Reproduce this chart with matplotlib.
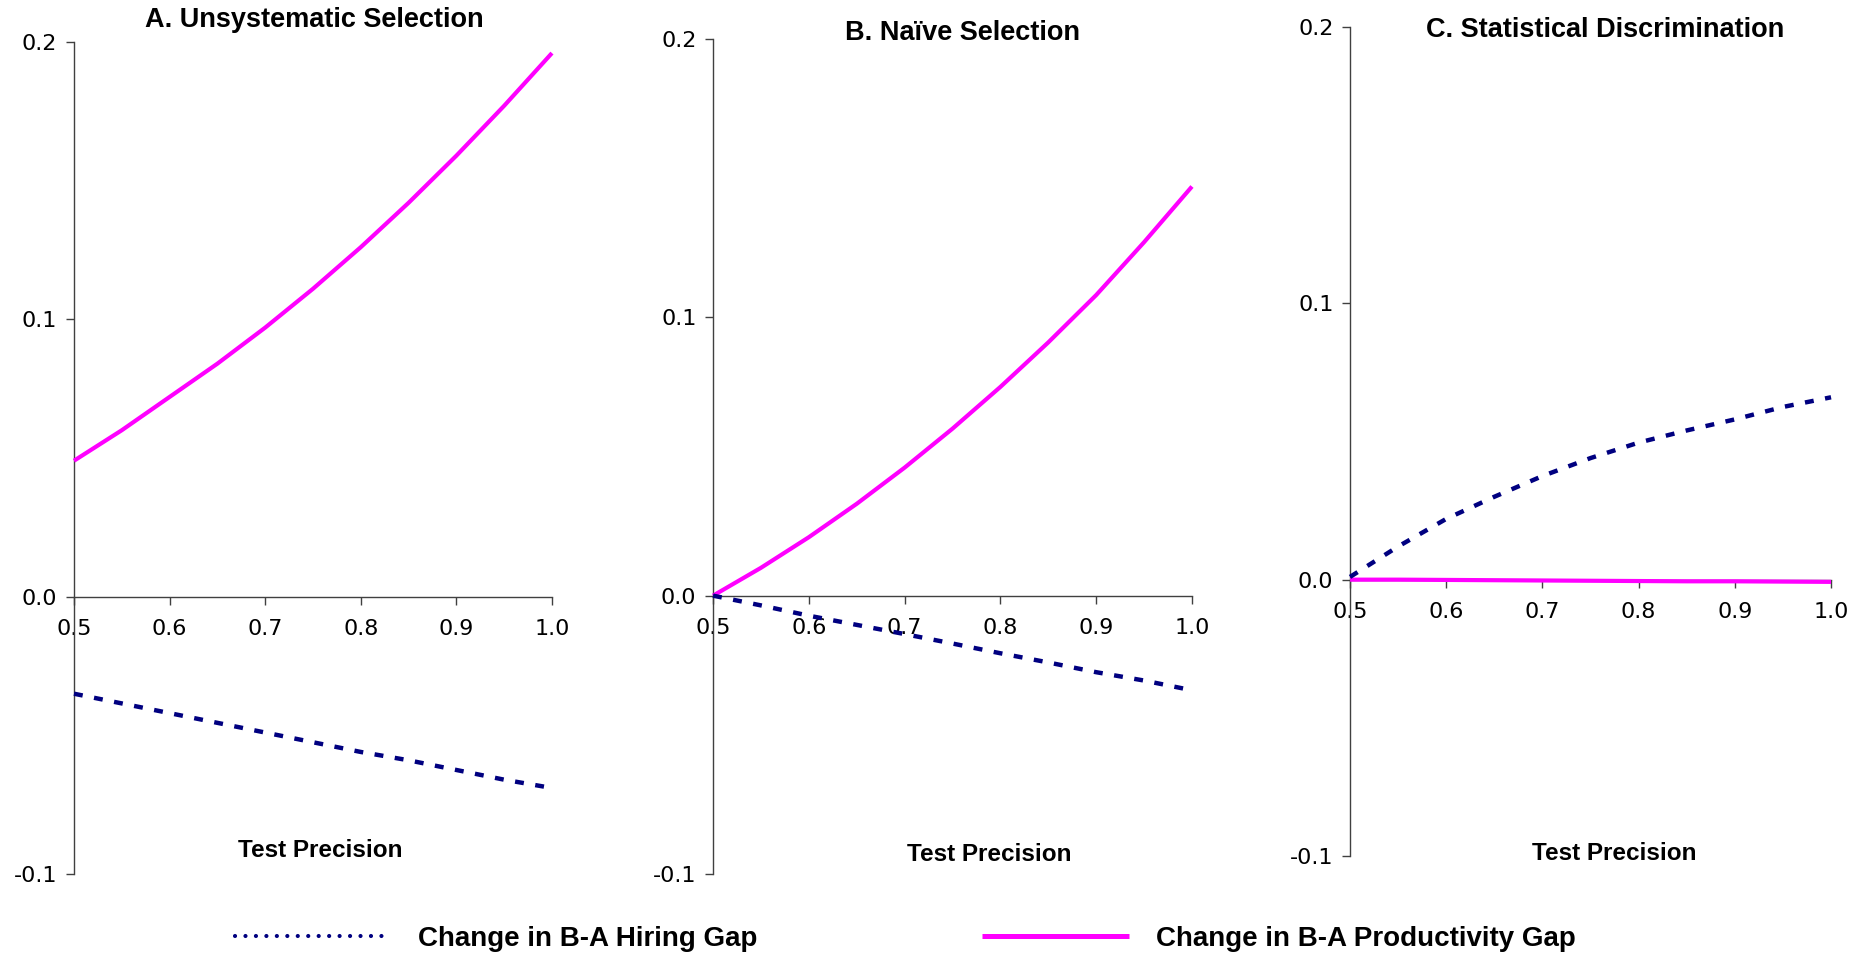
import matplotlib
matplotlib.use("Agg")
import matplotlib.pyplot as plt
from matplotlib.lines import Line2D

# ── Data ──────────────────────────────────────────────────────────────────

PRECISION = [0.50, 0.55, 0.60, 0.65, 0.70, 0.75, 0.80, 0.85, 0.90, 0.95, 1.00]

HIRING_A = [-0.035, -0.0385, -0.042, -0.0455, -0.049, -0.0525, -0.056, -0.059, -0.0625, -0.066, -0.069]
PROD_A   = [0.049, 0.060, 0.072, 0.084, 0.097, 0.111, 0.126, 0.142, 0.159, 0.177, 0.196]

HIRING_B = [0.0, -0.0035, -0.0072, -0.0105, -0.0138, -0.0172, -0.0207, -0.024, -0.0275, -0.0305, -0.034]
PROD_B   = [0.0, 0.010, 0.021, 0.033, 0.046, 0.060, 0.075, 0.091, 0.108, 0.127, 0.147]

HIRING_C = [0.001, 0.012, 0.022, 0.030, 0.0375, 0.044, 0.0496, 0.054, 0.058, 0.0625, 0.066]
PROD_C   = [0.0, 0.0, -0.0001, -0.0002, -0.0003, -0.0004, -0.0005, -0.0006, -0.0006, -0.0007, -0.0008]

TITLES = ["A. Unsystematic Selection", "B. Na\u00efve Selection", "C. Statistical Discrimination"]
X_TICKS = [0.5, 0.6, 0.7, 0.8, 0.9, 1.0]
Y_TICKS = [-0.1, 0.0, 0.1, 0.2]
XLABEL = "Test Precision"
LEGEND_LABELS = ["Change in B-A Hiring Gap", "Change in B-A Productivity Gap"]

# ── Styling ───────────────────────────────────────────────────────────────

NAVY = "#000080"
MAGENTA = "#FF00FF"
AXIS_GREY = "#404040"
TICK_FONT = "DejaVu Sans"
BOLD_FONT = "Liberation Sans"

# [left, bottom, width, height] in figure fraction, per panel
PANEL_RECTS = [
    [0.0395, 0.0877, 0.2552, 0.8685],
    [0.3807, 0.0877, 0.2557, 0.8716],
    [0.7208, 0.1065, 0.2568, 0.8653],
]
TITLE_POS = [(0.168, 0.979), (0.514, 0.966), (0.857, 0.969)]
XLABEL_POS = [(0.171, 0.112), (0.528, 0.108), (0.862, 0.109)]
LEGEND_X = [0.1255, 0.5243]
LEGEND_Y = 0.0198


def style_axes(ax):
    ax.set_xlim(0.5, 1.0)
    ax.set_ylim(-0.1, 0.2)
    ax.spines["top"].set_visible(False)
    ax.spines["right"].set_visible(False)
    ax.spines["bottom"].set_position(("data", 0.0))
    for side in ("left", "bottom"):
        ax.spines[side].set_color(AXIS_GREY)
        ax.spines[side].set_linewidth(1.0)
    ax.set_xticks(X_TICKS)
    ax.set_yticks(Y_TICKS)
    ax.set_xticklabels([f"{v:.1f}" for v in X_TICKS])
    ax.set_yticklabels([f"{v:.1f}" for v in Y_TICKS])
    ax.tick_params(axis="x", direction="out", length=6, width=1, color=AXIS_GREY,
                   pad=10, labelsize=16)
    ax.tick_params(axis="y", direction="out", length=6, width=1, color=AXIS_GREY,
                   pad=6, labelsize=16)
    for lab in ax.get_xticklabels() + ax.get_yticklabels():
        lab.set_fontfamily(TICK_FONT)
    ax.patch.set_alpha(0)


def main():
    fig = plt.figure(figsize=(18.73, 9.58), dpi=100)

    panels = [(HIRING_A, PROD_A), (HIRING_B, PROD_B), (HIRING_C, PROD_C)]
    for i, (hiring, prod) in enumerate(panels):
        ax = fig.add_axes(PANEL_RECTS[i])
        style_axes(ax)
        ax.plot(PRECISION, prod, color=MAGENTA, lw=3.0, solid_capstyle="butt",
                clip_on=False, zorder=3)
        ax.plot(PRECISION, hiring, color=NAVY, lw=3.2, dash_capstyle="butt",
                linestyle=(0, (2.0, 2.6)), clip_on=False, zorder=3)
        fig.text(*TITLE_POS[i], TITLES[i], ha="center", va="center",
                 fontsize=19.5, fontweight="bold", family=BOLD_FONT)
        fig.text(*XLABEL_POS[i], XLABEL, ha="center", va="center",
                 fontsize=17.5, fontweight="bold", family=BOLD_FONT)

    # legend: two separate entries placed along the bottom
    handles = [
        Line2D([], [], color=NAVY, lw=3.0, linestyle=(0, (0.01, 2.5)),
               dash_capstyle="round"),
        Line2D([], [], color=MAGENTA, lw=3.6, solid_capstyle="butt"),
    ]
    for x, h, lab, hl, tp in zip(LEGEND_X, handles, LEGEND_LABELS, [5.5, 5.3], [1.08, 0.97]):
        fig.legend(
            [h], [lab],
            loc="center left", bbox_to_anchor=(x, LEGEND_Y),
            frameon=False,
            prop={"family": BOLD_FONT, "weight": "bold", "size": 20},
            handlelength=hl, handletextpad=tp,
            borderpad=0, borderaxespad=0,
        )

    fig.savefig("out.png", dpi=100, facecolor="white")
    plt.close(fig)


if __name__ == "__main__":
    main()
